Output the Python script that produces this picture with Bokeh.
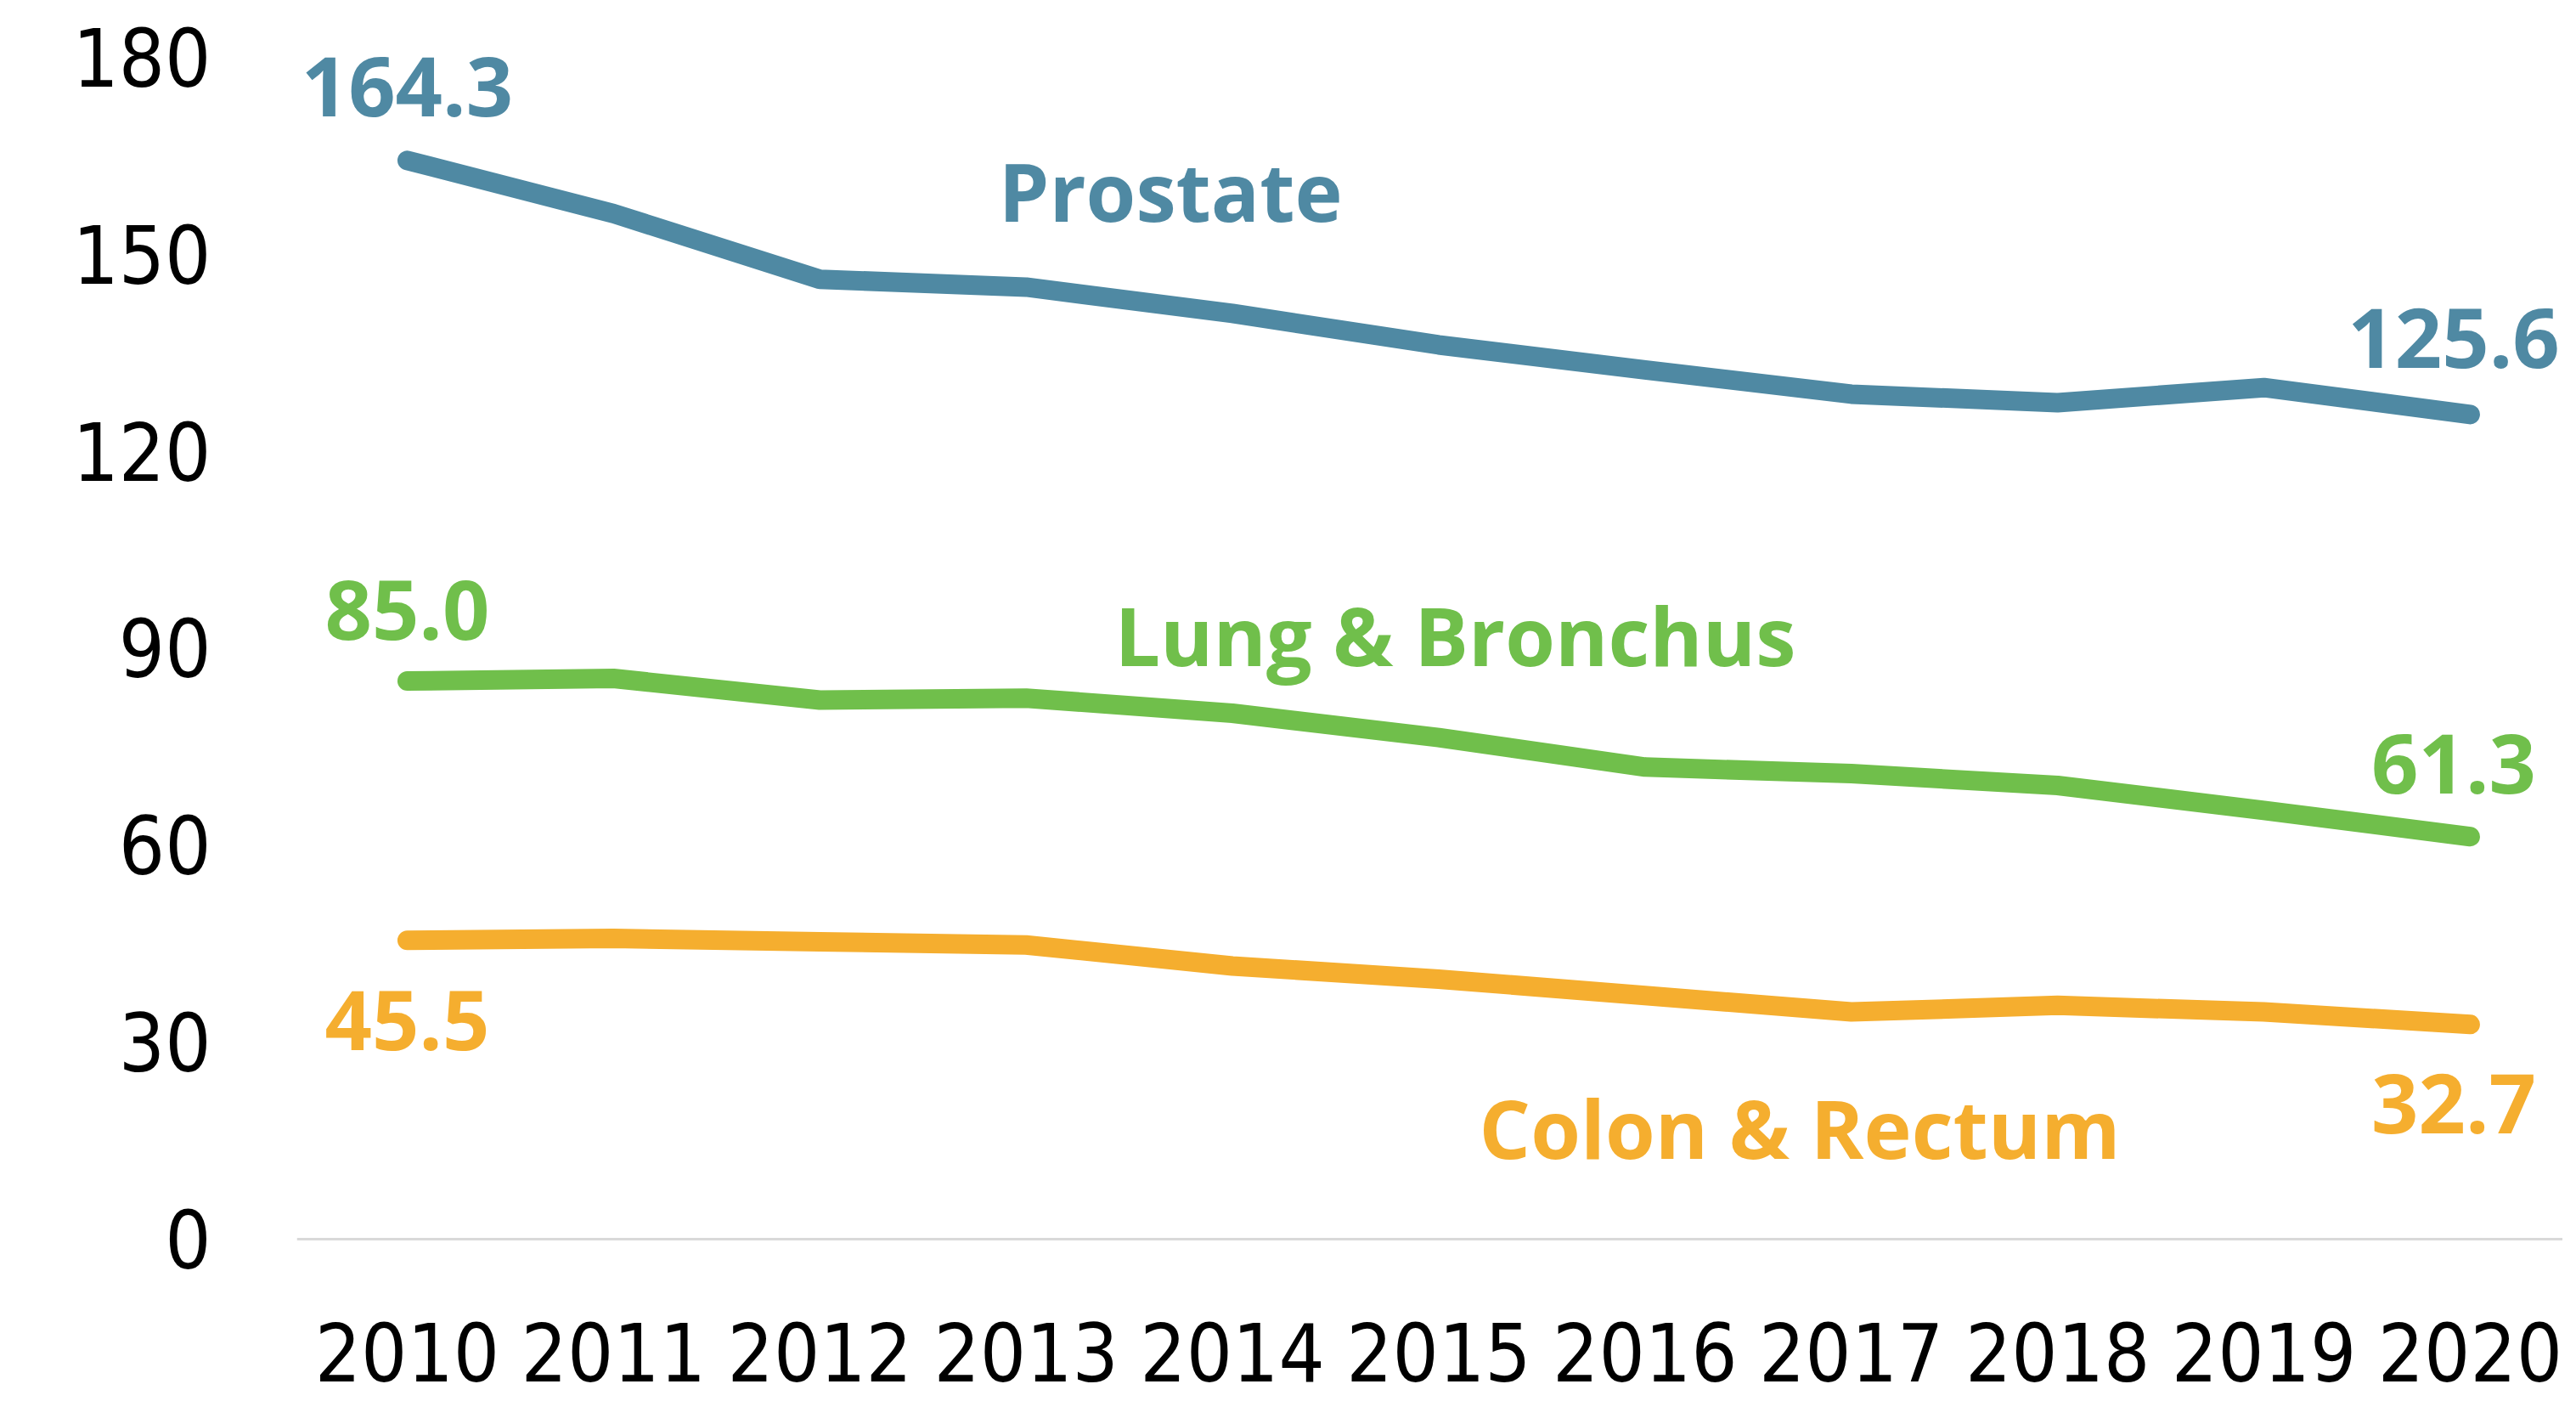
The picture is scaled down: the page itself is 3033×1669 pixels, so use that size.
from bokeh.plotting import figure
from bokeh.models import FixedTicker, Range1d
from bokeh.core.properties import value
from bokeh.embed import file_html
from bokeh.resources import INLINE

# ---- data ----
years = list(range(2010, 2021))
prostate = [164.3, 156.2, 146.2, 145.0, 141.0, 136.2, 132.4, 128.7, 127.4, 129.7, 125.6]
lung = [85.0, 85.4, 82.1, 82.4, 80.1, 76.4, 71.9, 70.9, 69.1, 65.3, 61.3]
colon = [45.5, 45.8, 45.3, 44.8, 41.6, 39.6, 37.1, 34.6, 35.6, 34.6, 32.7]
series_names = ["Prostate", "Lung & Bronchus", "Colon & Rectum"]
y_ticks = [0, 30, 60, 90, 120, 150, 180]

# ---- styling ----
colors = ["#4f89a3", "#70bf4b", "#f5ae2f"]
name_pos = [(2013.70, 159.7), (2015.08, 92.1), (2016.75, 17.0)]
# data label offset (data units): above (+) or below (-) the line end points
end_offsets = [(11.2, 11.6), (10.8, 11.1), (-12.2, -12.1)]
end_x_shift = [0.0, -0.08]

TICK_FONT = "DejaVu Sans Condensed"
ANN_FONT = "Open Sans"

p = figure(width=3017, height=1653, output_backend="svg", toolbar_location=None,
           x_range=Range1d(2009.465, 2020.449), y_range=Range1d(-5.44, 188.67),
           min_border_left=349, min_border_right=0, min_border_top=0,
           min_border_bottom=153)
p.outline_line_color = None
p.background_fill_color = "white"
p.border_fill_color = "white"

for vals, col, name, (nx, ny), (o1, o2) in zip(
        [prostate, lung, colon], colors, series_names, name_pos, end_offsets):
    p.line(years, vals, line_color=col, line_width=23,
           line_cap="round", line_join="round")
    p.text(x=[years[0] + end_x_shift[0], years[-1] + end_x_shift[1]],
           y=[vals[0] + o1, vals[-1] + o2],
           text=[f"{vals[0]:.1f}", f"{vals[-1]:.1f}"],
           text_color=col, text_font=value(ANN_FONT), text_font_style="bold",
           text_font_size="97px", text_align="center", text_baseline="middle")
    p.text(x=[nx], y=[ny], text=[name], text_color=col,
           text_font=value(ANN_FONT), text_font_style="bold",
           text_font_size="95px", text_align="center", text_baseline="middle")

# axes
p.xaxis.ticker = FixedTicker(ticks=years)
p.yaxis.ticker = FixedTicker(ticks=y_ticks)
for ax in (p.xaxis, p.yaxis):
    ax.axis_line_color = None
    ax.major_tick_line_color = None
    ax.minor_tick_line_color = None
    ax.major_label_text_font = TICK_FONT
    ax.major_label_text_font_size = "95px"
    ax.major_label_text_color = "black"
p.yaxis.major_label_standoff = 95
p.xaxis.major_label_standoff = 50

p.xgrid.grid_line_color = None
p.ygrid.ticker = FixedTicker(ticks=[0])
p.ygrid.grid_line_color = "#d9d9d9"
p.ygrid.grid_line_width = 3

open("out.html", "w").write(file_html(p, INLINE))
